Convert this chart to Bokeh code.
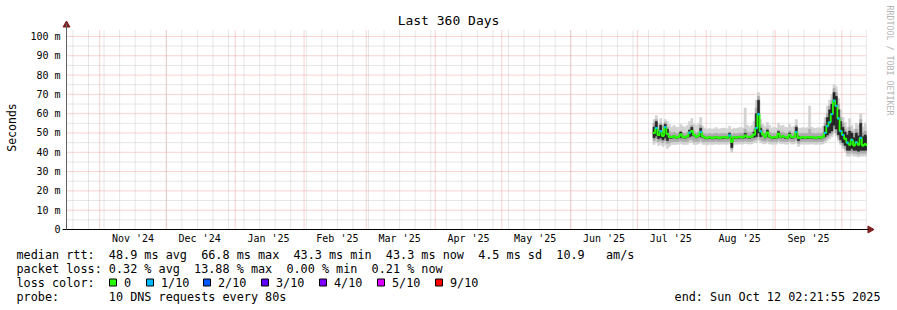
import numpy as np
import pandas as pd
from bokeh.plotting import figure
from bokeh.models import Range1d, FixedTicker, ColumnDataSource
from bokeh.core.properties import value
from bokeh.embed import file_html
from bokeh.resources import INLINE

# ---------------- data ----------------
range_start = "2024-10-17 02:21:55"
range_end = "2025-10-12 02:21:55"
first_day = "2025-07-08"

median_ms = [50.0, 52.5, 49.0, 51.0, 48.5, 53.0, 49.5, 48.0,
             47.8, 48.3, 47.6, 48.0, 49.2, 48.0, 47.7, 48.4,
             50.2, 51.0, 49.0, 48.0, 48.6, 50.6, 48.2,
             47.6, 47.5, 47.8, 47.5, 47.6, 47.9, 47.5, 47.6, 47.8, 47.7, 47.6,
             48.8, 45.5, 47.8,
             47.6, 47.8, 48.0, 47.7,
             48.6, 48.0, 47.8, 48.2, 49.2, 52.5, 59.8, 50.8, 49.2, 48.0, 50.2, 48.2,
             47.6, 47.8, 47.7, 49.6, 48.0, 48.3, 47.8, 47.6, 49.0, 47.8, 48.0, 50.5, 47.6,
             47.6, 47.8, 47.6, 47.8, 47.7, 47.9, 47.6, 47.5, 47.8, 47.6, 48.1,
             50.0, 53.5, 55.5, 59.8, 66.8, 64.0, 57.5, 51.0, 49.0, 47.0,
             45.0, 44.0, 46.5, 43.6, 45.2, 44.0, 47.5, 43.6, 44.2, 43.3]

loss_tenths = [0, 1, 0, 1, 0, 1, 0, 0,
               0, 0, 0, 0, 0, 0, 0, 0,
               1, 0, 0, 0, 0, 1, 0,
               0, 0, 0, 0, 0, 0, 0, 0, 0, 0, 0,
               1, 0, 0,
               0, 0, 0, 0,
               0, 0, 0, 0, 0, 1, 1, 1, 0, 0, 0, 0,
               0, 0, 0, 0, 0, 0, 0, 0, 0, 0, 0, 1, 0,
               0, 0, 0, 0, 0, 0, 0, 0, 0, 0, 0,
               1, 1, 1, 1, 1, 1, 1, 1, 1, 0,
               1, 0, 1, 0, 1, 0, 1, 0, 0, 0]

smoke_lo = [44.0, 45.0, 43.5, 44.0, 43.0, 44.0, 42.0, 43.0,
            44.0, 44.0, 44.0, 44.2, 44.5, 44.0, 44.0, 44.0,
            45.0, 45.0, 44.0, 44.0, 44.3, 45.0, 44.0,
            44.0, 43.8, 44.2, 44.0, 44.0, 44.3, 44.0, 44.1, 44.2, 44.1, 44.0,
            44.5, 40.0, 44.0,
            44.1, 44.2, 44.3, 44.2,
            44.5, 44.3, 44.2, 44.3, 45.0, 45.0, 46.0, 45.0, 44.5, 44.3, 45.0, 44.3,
            44.1, 44.2, 44.1, 45.0, 44.3, 44.4, 44.2, 44.1, 44.8, 44.2, 44.3, 45.0, 43.0,
            44.1, 44.2, 44.1, 44.2, 44.1, 44.3, 44.1, 44.0, 44.2, 44.1, 44.3,
            45.0, 46.0, 47.0, 48.0, 50.0, 48.5, 46.0, 44.0, 42.0, 40.5,
            38.0, 37.8, 38.5, 38.0, 38.0, 37.5, 38.0, 38.0, 38.0, 38.0]

smoke_hi = [57.0, 59.0, 55.0, 57.5, 54.0, 57.0, 56.0, 54.5,
            53.0, 54.0, 53.0, 53.0, 54.5, 53.5, 53.0, 54.0,
            56.0, 57.5, 54.5, 54.0, 55.0, 58.0, 53.5,
            52.5, 52.0, 52.5, 52.0, 52.2, 52.8, 52.0, 52.3, 52.6, 52.4, 52.2,
            53.5, 52.0, 52.5,
            52.3, 52.6, 53.0, 52.6,
            63.0, 54.0, 53.0, 54.0, 56.0, 67.0, 71.0, 57.0, 54.5, 53.5, 55.5, 54.0,
            52.5, 53.0, 52.6, 55.0, 53.6, 54.0, 53.0, 52.8, 54.5, 53.0, 53.5, 57.0, 52.6,
            52.5, 52.8, 52.5, 52.8, 64.0, 53.0, 52.5, 52.4, 52.8, 52.5, 53.5,
            58.0, 64.0, 67.0, 70.0, 75.0, 74.0, 68.0, 62.0, 58.0, 55.5,
            53.0, 57.5, 54.0, 52.0, 55.0, 54.0, 60.0, 53.0, 55.0, 53.0]

mid_lo = [46.0, 47.0, 45.5, 46.0, 45.0, 46.0, 44.5, 45.0,
          45.5, 45.5, 45.5, 45.6, 46.0, 45.5, 45.5, 45.6,
          46.5, 46.5, 45.5, 45.5, 45.6, 46.5, 45.5,
          45.5, 45.4, 45.6, 45.5, 45.5, 45.7, 45.4, 45.5, 45.6, 45.5, 45.5,
          45.8, 41.5, 45.5,
          45.5, 45.6, 45.7, 45.6,
          45.8, 45.7, 45.6, 45.7, 46.3, 46.5, 48.0, 46.5, 45.8, 45.7, 46.2, 45.7,
          45.5, 45.6, 45.5, 46.2, 45.7, 45.7, 45.6, 45.5, 46.0, 45.6, 45.7, 46.3, 44.5,
          45.5, 45.6, 45.5, 45.6, 45.5, 45.6, 45.5, 45.4, 45.6, 45.5, 45.7,
          46.5, 47.5, 48.5, 49.5, 52.0, 50.0, 47.5, 45.0, 43.5, 42.0,
          39.5, 39.5, 40.0, 39.5, 39.5, 39.0, 39.5, 39.5, 39.5, 39.5]

mid_hi = [55.0, 57.0, 52.0, 55.0, 51.0, 55.5, 53.0, 51.0,
          50.0, 50.5, 49.8, 50.0, 51.0, 50.0, 49.8, 50.5,
          52.0, 54.0, 51.0, 50.0, 50.5, 54.0, 50.0,
          49.6, 49.5, 49.8, 49.5, 49.6, 49.9, 49.5, 49.6, 49.8, 49.7, 49.6,
          50.5, 49.0, 49.8,
          49.6, 49.8, 50.0, 49.8,
          52.0, 50.5, 50.0, 50.5, 52.0, 63.0, 69.0, 54.0, 51.5, 50.0, 52.5, 50.5,
          49.7, 49.9, 49.8, 51.5, 50.2, 50.4, 49.9, 49.7, 51.0, 49.9, 50.1, 54.0, 49.6,
          49.7, 49.9, 49.7, 49.9, 52.0, 50.0, 49.7, 49.6, 49.9, 49.7, 50.3,
          55.0, 60.0, 64.0, 67.0, 73.0, 71.0, 65.0, 58.0, 55.0, 52.0,
          50.5, 53.0, 51.0, 49.5, 52.0, 50.5, 57.0, 50.0, 51.0, 50.0]

core_lo = [47.5, 48.5, 47.0, 47.5, 46.5, 47.5, 46.0, 47.3,
           47.2, 47.7, 47.0, 47.4, 47.5, 47.4, 47.1, 47.8,
           48.0, 48.5, 48.4, 47.4, 48.0, 48.0, 47.6,
           47.0, 46.9, 47.2, 46.9, 47.0, 47.3, 46.9, 47.0, 47.2, 47.1, 47.0,
           47.5, 42.5, 47.2,
           47.0, 47.2, 47.4, 47.1,
           47.4, 47.4, 47.2, 47.6, 47.8, 48.0, 50.0, 48.0, 48.6, 47.4, 48.0, 47.6,
           47.0, 47.2, 47.1, 47.8, 47.4, 47.7, 47.2, 47.0, 47.6, 47.2, 47.4, 48.0, 46.0,
           47.0, 47.2, 47.0, 47.2, 47.1, 47.3, 47.0, 46.9, 47.2, 47.0, 47.5,
           48.0, 49.0, 50.0, 51.0, 54.0, 52.0, 49.0, 46.5, 45.0, 43.5,
           41.0, 41.0, 42.0, 41.0, 41.0, 40.5, 41.0, 41.0, 41.0, 41.0]

core_hi = [53.0, 56.0, 51.0, 54.0, 50.0, 54.5, 52.0, 48.4,
           48.1, 48.6, 47.9, 48.3, 50.5, 48.3, 48.0, 48.7,
           51.5, 53.0, 49.3, 48.3, 48.9, 52.5, 48.5,
           47.9, 47.8, 48.1, 47.8, 47.9, 48.2, 47.8, 47.9, 48.1, 48.0, 47.9,
           49.8, 47.5, 48.1,
           47.9, 48.1, 48.3, 48.0,
           49.8, 48.3, 48.1, 48.5, 50.5, 60.0, 67.0, 52.5, 49.5, 48.3, 51.5, 48.5,
           47.9, 48.1, 48.0, 50.8, 48.3, 48.6, 48.1, 47.9, 50.0, 48.1, 48.3, 53.0, 48.4,
           47.9, 48.1, 47.9, 48.1, 48.0, 48.2, 47.9, 47.8, 48.1, 47.9, 48.4,
           53.5, 58.0, 62.0, 65.0, 71.0, 69.0, 62.0, 56.0, 53.0, 50.5,
           49.0, 51.0, 50.0, 47.5, 50.0, 48.5, 55.0, 48.0, 49.0, 48.0]

y_ticks = [0, 10, 20, 30, 40, 50, 60, 70, 80, 90, 100]
y_tick_labels = ["0", "10 m", "20 m", "30 m", "40 m", "50 m", "60 m", "70 m", "80 m", "90 m", "100 m"]
month_label_dates = ["2024-11-16", "2024-12-16", "2025-01-16", "2025-02-16", "2025-03-16", "2025-04-16",
                     "2025-05-16", "2025-06-16", "2025-07-16", "2025-08-16", "2025-09-16"]
month_labels = ["Nov '24", "Dec '24", "Jan '25", "Feb '25", "Mar '25", "Apr '25",
                "May '25", "Jun '25", "Jul '25", "Aug '25", "Sep '25"]

loss_levels = [0, 1, 2, 3, 4, 5, 9]
loss_level_labels = ["0", "1/10", "2/10", "3/10", "4/10", "5/10", "9/10"]
loss_colors = ["#26ff00", "#00b8ff", "#0059ff", "#5e00ff", "#7e00ff", "#dd00ff", "#ff0000"]

title_text = "Last 360 Days"
y_title = "Seconds"
stat_rtt = "median rtt:  48.9 ms avg  66.8 ms max  43.3 ms min  43.3 ms now  4.5 ms sd  10.9   am/s"
stat_loss = "packet loss: 0.32 % avg  13.88 % max  0.00 % min  0.21 % now"
loss_caption = "loss color:"
probe_text = "probe:       10 DNS requests every 80s"
end_text = "end: Sun Oct 12 02:21:55 2025"
watermark = "RRDTOOL / TOBI OETIKER"

# ---------------- geometry helpers (pixel -> data) ----------------
def ms(ts):
    return pd.Timestamp(ts).value // 10**6

t0 = ms(range_start)
t1 = ms(range_end)
YMAX = 103.6
CW, CH = 897, 310
L, W, B, H = 66, 800, 229, 200
FONT = value("DejaVu Sans Mono")

def X(px):
    return t0 + (px - L) / W * (t1 - t0)

def Y(py):
    return (B - py) / H * YMAX

def keep_spaces(s):
    return s.replace(" ", "\u00a0")

days = pd.date_range(first_day, periods=len(median_ms), freq="D")
left = np.array([ms(d) for d in days], dtype=float)
right = np.minimum(left + 86400000.0, t1)
color_of = dict(zip(loss_levels, loss_colors))

src = ColumnDataSource(dict(
    left=left, right=right, mid=left,
    lo=smoke_lo, hi=smoke_hi, mlo=mid_lo, mhi=mid_hi, clo=core_lo, chi=core_hi,
    med=median_ms, col=[color_of[v] for v in loss_tenths],
))

# ---------------- figure (frame = whole canvas; axes pinned inside) ----------------
p = figure(width=CW, height=CH, x_range=Range1d(X(0), X(CW)), y_range=Range1d(Y(CH), Y(0)),
           output_backend="svg", toolbar_location=None, min_border=0)
p.outline_line_color = None
p.background_fill_color = "white"
p.border_fill_color = "white"
p.xgrid.visible = False
p.ygrid.visible = False

# grid lines (rrdtool style dotted)
sundays = [ms(d) for d in pd.date_range("2024-10-20", range_end, freq="7D")]
month_starts = [ms(d) for d in pd.date_range("2024-11-01", range_end, freq="MS")]
minor_y = list(np.arange(5, 100, 10))
major_y = y_ticks[1:]
GRID_C, MGRID_C = "#cdcdcd", "#f0a4a4"
p.segment(x0=sundays, x1=sundays, y0=0, y1=YMAX, line_color=GRID_C, line_dash="1 1", line_width=1)
p.segment(x0=t0, x1=t1, y0=minor_y, y1=minor_y, line_color=GRID_C, line_dash="1 1", line_width=1)
p.segment(x0=month_starts, x1=month_starts, y0=0, y1=YMAX, line_color=MGRID_C, line_dash="1 1", line_width=1)
p.segment(x0=t0, x1=t1, y0=major_y, y1=major_y, line_color=MGRID_C, line_dash="1 1", line_width=1)

# smoke
p.quad(left="left", right="right", bottom="lo", top="hi", source=src,
       fill_color="#d2d2d2", line_color="#d2d2d2", line_width=0.5)
p.quad(left="left", right="right", bottom="mlo", top="mhi", source=src,
       fill_color="#acacac", line_color="#acacac", line_width=0.5)
p.quad(left="left", right="right", bottom="clo", top="chi", source=src,
       fill_color="#262626", line_color="#262626", line_width=0.5)
# median
p.step(x="mid", y="med", source=src, mode="after", line_color=loss_colors[0], line_width=1.8)
p.segment(x0="left", x1="right", y0="med", y1="med", source=src, line_color="col", line_width=2.2)

# axes, pinned at the chart origin
tick_ms = [ms(d) for d in month_label_dates]
xa = p.xaxis[0]
xa.fixed_location = 0
xa.bounds = (X(62), X(868))
xa.ticker = FixedTicker(ticks=tick_ms)
xa.major_label_overrides = {t: s for t, s in zip(tick_ms, month_labels)}
xa.minor_tick_line_color = None
xa.major_tick_out = 0
xa.major_tick_in = 0
xa.major_label_standoff = 3
xa.axis_line_color = "black"
xa.major_label_text_font = "DejaVu Sans Mono"
xa.major_label_text_font_size = "10px"
xa.major_label_text_color = "black"

ya = p.yaxis[0]
ya.fixed_location = t0
ya.bounds = (0, Y(23))
ya.ticker = FixedTicker(ticks=y_ticks)
ya.major_label_overrides = {t: s for t, s in zip(y_ticks, y_tick_labels)}
ya.minor_tick_line_color = None
ya.major_tick_out = 0
ya.major_tick_in = 0
ya.major_label_standoff = 6
ya.axis_line_color = "#606060"
ya.major_label_text_font = "DejaVu Sans Mono"
ya.major_label_text_font_size = "10px"
ya.major_label_text_color = "black"

# arrow heads
p.scatter(x=[t0], y=[Y(24.5)], marker="triangle", size=7, fill_color="#7f1f1f", line_color="#7f1f1f")
p.scatter(x=[X(869.5)], y=[0], marker="triangle", angle=-np.pi / 2, size=7,
          fill_color="#7f1f1f", line_color="#7f1f1f")

# texts
p.text(x=[X(448)], y=[Y(19.5)], text=[keep_spaces(title_text)], text_align="center",
       text_baseline="middle", text_font=FONT, text_font_size="13px", text_color="black")
p.text(x=[X(11)], y=[Y(127)], text=[y_title], angle=np.pi / 2, text_align="center",
       text_baseline="middle", text_font=FONT, text_font_size="11.5px", text_color="black")
p.text(x=[X(889)], y=[Y(5)], text=[keep_spaces(watermark)], angle=-np.pi / 2, text_align="left",
       text_baseline="middle", text_font=FONT, text_font_size="8.3px", text_color="#b4b4b4")

legend_lines = [stat_rtt, stat_loss, loss_caption, probe_text]
line_y = [254.3, 268.3, 282.3, 296.2]
p.text(x=[X(16)] * 4, y=[Y(v) for v in line_y], text=[keep_spaces(s) for s in legend_lines],
       text_font=FONT, text_font_size="11.8px", text_baseline="middle", text_color="black")
p.text(x=[X(880)], y=[Y(296.2)], text=[keep_spaces(end_text)], text_align="right",
       text_font=FONT, text_font_size="11.8px", text_baseline="middle", text_color="black")

sq_px = np.array([109, 146, 203, 261, 319, 377, 435], dtype=float)
p.quad(left=[X(v) for v in sq_px], right=[X(v + 7) for v in sq_px], top=Y(278.5), bottom=Y(285.5),
       fill_color=loss_colors, line_color="black", line_width=1)
p.text(x=[X(v + 14.5) for v in sq_px], y=[Y(282.3)] * len(sq_px), text=loss_level_labels,
       text_font=FONT, text_font_size="11.8px", text_baseline="middle", text_color="black")

open("out.html", "w").write(file_html(p, INLINE))
